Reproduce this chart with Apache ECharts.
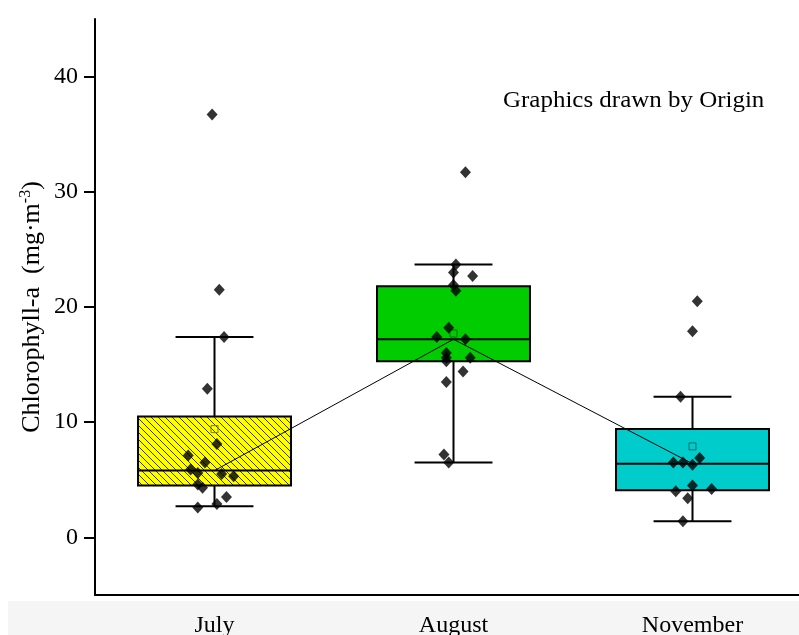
<!DOCTYPE html>
<html>
<head>
<meta charset="utf-8">
<script src="https://cdn.jsdelivr.net/npm/echarts@6/dist/echarts.min.js"></script>
<style>
  html, body { margin: 0; padding: 0; background: #fff; }
  #main { width: 799px; height: 635px; }
</style>
</head>
<body>
<div id="main"></div>
<script>
// months on the x axis
const months = ['July', 'August', 'November'];

// box statistics, one value per month
const whiskerLow = [2.7, 6.5, 1.4];
const q1 = [4.5, 15.3, 4.1];
const median = [5.8, 17.2, 6.4];
const q3 = [10.5, 21.8, 9.4];
const whiskerHigh = [17.4, 23.7, 12.2];
const means = [9.4, 17.7, 7.9];

// raw samples (mg/m3) and their horizontal jitter (in category units)
const julyValues = [36.7, 21.5, 17.4, 12.9, 8.1, 7.1, 6.5, 5.9, 5.6, 5.5, 5.3, 4.6, 4.3, 3.5, 2.9, 2.6];
const julyJitter = [-0.01, 0.02, 0.04, -0.03, 0.01, -0.11, -0.04, -0.10, -0.07, 0.03, 0.08, -0.07, -0.05, 0.05, 0.01, -0.07];
const augustValues = [31.7, 23.7, 23.0, 22.7, 21.9, 21.4, 18.2, 17.4, 17.2, 16.0, 15.6, 15.6, 15.3, 14.4, 13.5, 7.2, 6.5];
const augustJitter = [0.05, 0.01, 0.0, 0.08, 0.0, 0.01, -0.02, -0.07, 0.05, -0.03, -0.03, 0.07, -0.03, 0.04, -0.03, -0.04, -0.02];
const novemberValues = [20.5, 17.9, 12.2, 6.9, 6.5, 6.5, 6.3, 4.5, 4.2, 4.0, 3.4, 1.4];
const novemberJitter = [0.02, 0.0, -0.05, 0.03, -0.08, -0.04, 0.0, 0.0, 0.08, -0.07, -0.02, -0.04];

const yTicks = [0, 10, 20, 30, 40];

const FONT = '"Liberation Serif", "Times New Roman", serif';

// hatch pattern for the July box
function makeHatch() {
  const c = document.createElement('canvas');
  c.width = 7; c.height = 7;
  const ctx = c.getContext('2d');
  ctx.fillStyle = '#ffff00';
  ctx.fillRect(0, 0, 7, 7);
  ctx.strokeStyle = '#3a3a00';
  ctx.lineWidth = 1;
  ctx.beginPath();
  ctx.moveTo(-1, -1); ctx.lineTo(8, 8);
  ctx.moveTo(-1, 6); ctx.lineTo(1, 8);
  ctx.moveTo(6, -1); ctx.lineTo(8, 1);
  ctx.stroke();
  return c;
}

const boxFills = [
  { type: 'pattern', image: makeHatch(), repeat: 'repeat' },
  '#00cc00',
  '#00cccc'
];
const meanStroke = ['#7a7a20', '#006f00', '#006f6f'];

const boxData = months.map((m, i) => [i, whiskerLow[i], q1[i], median[i], q3[i], whiskerHigh[i], means[i]]);

const scatterData = [];
[[julyValues, julyJitter], [augustValues, augustJitter], [novemberValues, novemberJitter]].forEach((pair, i) => {
  pair[0].forEach((v, k) => scatterData.push([i + pair[1][k], v]));
});

const HALF_BOX = 0.32;
const HALF_CAP = 0.163;

function renderBox(params, api) {
  const i = api.value(0);
  const lo = api.coord([i, api.value(1)]);
  const b1 = api.coord([i - HALF_BOX, api.value(2)]);
  const med = api.value(3);
  const b3 = api.coord([i + HALF_BOX, api.value(4)]);
  const hi = api.coord([i, api.value(5)]);
  const mean = api.coord([i, api.value(6)]);
  const mL = api.coord([i - HALF_BOX, med]);
  const mR = api.coord([i + HALF_BOX, med]);
  const cL = api.coord([i - HALF_CAP, 0])[0];
  const cR = api.coord([i + HALF_CAP, 0])[0];
  const line = { stroke: '#000', lineWidth: 2 };
  return {
    type: 'group',
    children: [
      { type: 'line', shape: { x1: hi[0], y1: hi[1], x2: hi[0], y2: b3[1] }, style: line },
      { type: 'line', shape: { x1: lo[0], y1: lo[1], x2: lo[0], y2: b1[1] }, style: line },
      { type: 'line', shape: { x1: cL, y1: hi[1], x2: cR, y2: hi[1] }, style: line },
      { type: 'line', shape: { x1: cL, y1: lo[1], x2: cR, y2: lo[1] }, style: line },
      {
        type: 'rect',
        shape: { x: b1[0], y: b3[1], width: b3[0] - b1[0], height: b1[1] - b3[1] },
        style: { fill: boxFills[i], stroke: '#000', lineWidth: 2 }
      },
      { type: 'line', shape: { x1: mL[0], y1: mL[1], x2: mR[0], y2: mR[1] }, style: line },
      {
        type: 'rect',
        shape: { x: mean[0] - 3.5, y: mean[1] - 3.5, width: 7, height: 7 },
        style: { fill: 'none', stroke: meanStroke[i], lineWidth: 1 }
      }
    ]
  };
}

const chart = echarts.init(document.getElementById('main'));

chart.setOption({
  backgroundColor: '#ffffff',
  animation: false,
  grid: { left: 95, right: -13, top: 19, bottom: 40, containLabel: false, outerBoundsMode: 'none' },
  graphic: [
    {
      type: 'rect', z: -10, silent: true,
      shape: { x: 8, y: 601, width: 791, height: 34 },
      style: { fill: '#f5f5f5' }
    },
    {
      type: 'text', left: 503, top: 89, scaleX: 1.04,
      style: { text: 'Graphics drawn by Origin', font: '24px ' + FONT, fill: '#000' }
    }
  ],
  xAxis: [
    {
      type: 'category',
      data: months,
      axisLine: { onZero: false, lineStyle: { color: '#000', width: 2 } },
      axisTick: { alignWithLabel: true, length: 10, lineStyle: { color: '#000', width: 2 } },
      axisLabel: { color: '#000', fontSize: 24, fontFamily: FONT, margin: 19 },
      splitLine: { show: false }
    },
    {
      type: 'value', min: -0.5, max: 2.5, show: false
    }
  ],
  yAxis: {
    type: 'value',
    min: -5,
    max: 45,
    name: '{a|Chlorophyll-a  (mg·m}{s|-3}{a|)}',
    nameLocation: 'middle',
    nameGap: 49,
    nameMoveOverlap: false,
    nameRotate: 90,
    nameTextStyle: {
      rich: {
        a: { fontSize: 26, fontFamily: FONT, color: '#000', lineHeight: 28 },
        s: { fontSize: 16, fontFamily: FONT, color: '#000', verticalAlign: 'top', lineHeight: 28 }
      }
    },
    axisLine: { show: true, onZero: false, lineStyle: { color: '#000', width: 2 } },
    axisTick: { show: true, length: 11, customValues: yTicks, lineStyle: { color: '#000', width: 2 } },
    axisLabel: { customValues: yTicks, color: '#000', fontSize: 24, fontFamily: FONT, margin: 17 },
    splitLine: { show: false }
  },
  series: [
    {
      type: 'custom',
      xAxisIndex: 1,
      renderItem: renderBox,
      encode: { x: 0, y: [1, 2, 3, 4, 5] },
      data: boxData,
      z: 2
    },
    {
      type: 'line',
      xAxisIndex: 0,
      data: median,
      symbol: 'none',
      lineStyle: { color: '#000', width: 1 },
      z: 3
    },
    {
      type: 'scatter',
      xAxisIndex: 1,
      data: scatterData,
      symbol: 'diamond',
      symbolSize: [11, 12],
      itemStyle: { color: '#000' },
      z: 4
    }
  ]
});
</script>
</body>
</html>
